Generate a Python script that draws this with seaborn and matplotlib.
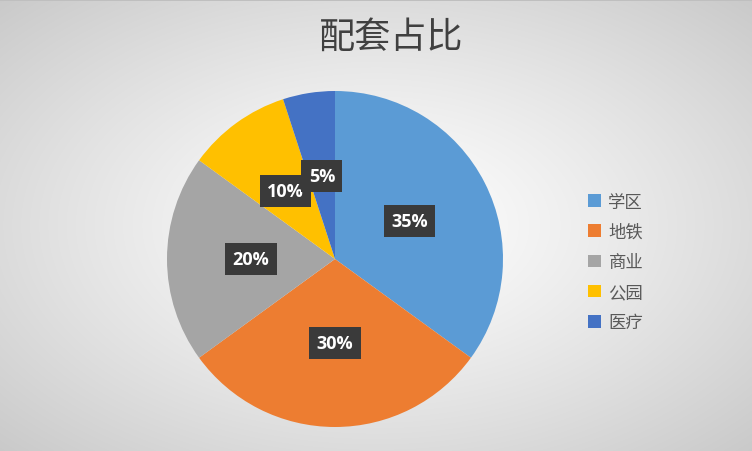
import numpy as np
import matplotlib
matplotlib.use("Agg")
import matplotlib.pyplot as plt
import seaborn as sns
from matplotlib.patches import Patch

sns.set_theme(style="white")
plt.rcParams['font.family'] = ['Noto Sans CJK SC', 'DejaVu Sans']

title = "配套占比"
categories = ["学区", "地铁", "商业", "公园", "医疗"]
values = [35, 30, 20, 10, 5]
colors = ["#5B9BD5", "#ED7D31", "#A5A5A5", "#FFC000", "#4472C4"]

W, H = 752, 452
fig = plt.figure(figsize=(W / 100, H / 100), dpi=100)

# radial gradient background
bg = fig.add_axes([0, 0, 1, 1])
yy, xx = np.mgrid[0:H, 0:W]
cx, cy = W * 0.5, H * 0.5
d = np.sqrt(((xx - cx) / (W * 0.5)) ** 2 + ((yy - cy) / (H * 0.5)) ** 2) / np.sqrt(2)
shade = 1.0 - 0.21 * np.clip(d, 0, 1) ** 1.2
img = np.dstack([shade, shade, shade])
img[0:2, :, :] = 0.75
bg.imshow(img, aspect='auto', extent=[0, W, H, 0])
bg.set_axis_off()

# pie
cxp, cyp, r = 335, 260, 168
ax = fig.add_axes([(cxp - r) / W, (H - cyp - r) / H, 2 * r / W, 2 * r / H])
wedges, texts, autotexts = ax.pie(
    values, colors=colors, startangle=90, counterclock=False,
    autopct=lambda p: f"{p:.0f}%", pctdistance=0.5, radius=1.0,
    wedgeprops=dict(linewidth=0),
    textprops=dict(color="white", fontsize=13, fontweight="bold", family="Open Sans"),
)
for t in autotexts:
    t.set_bbox(dict(boxstyle="square,pad=0.4", facecolor="#3a3a3a", edgecolor="none"))
ax.set_xlim(-1, 1)
ax.set_ylim(-1, 1)
ax.set_aspect('equal')
ax.set_axis_off()

# title
fig.text(391 / W, 1 - 38 / H, title, ha='center', va='center', fontsize=26, color='#404040')

# legend
handles = [Patch(facecolor=c, edgecolor='none') for c in colors]
leg = fig.legend(handles, categories, loc='center left', bbox_to_anchor=(572 / W, 1 - 263 / H),
                 frameon=False, fontsize=12.5, handlelength=0.75, handleheight=0.75,
                 handletextpad=0.45, labelspacing=0.7, labelcolor='#595959')

fig.savefig("out.png", dpi=100)
